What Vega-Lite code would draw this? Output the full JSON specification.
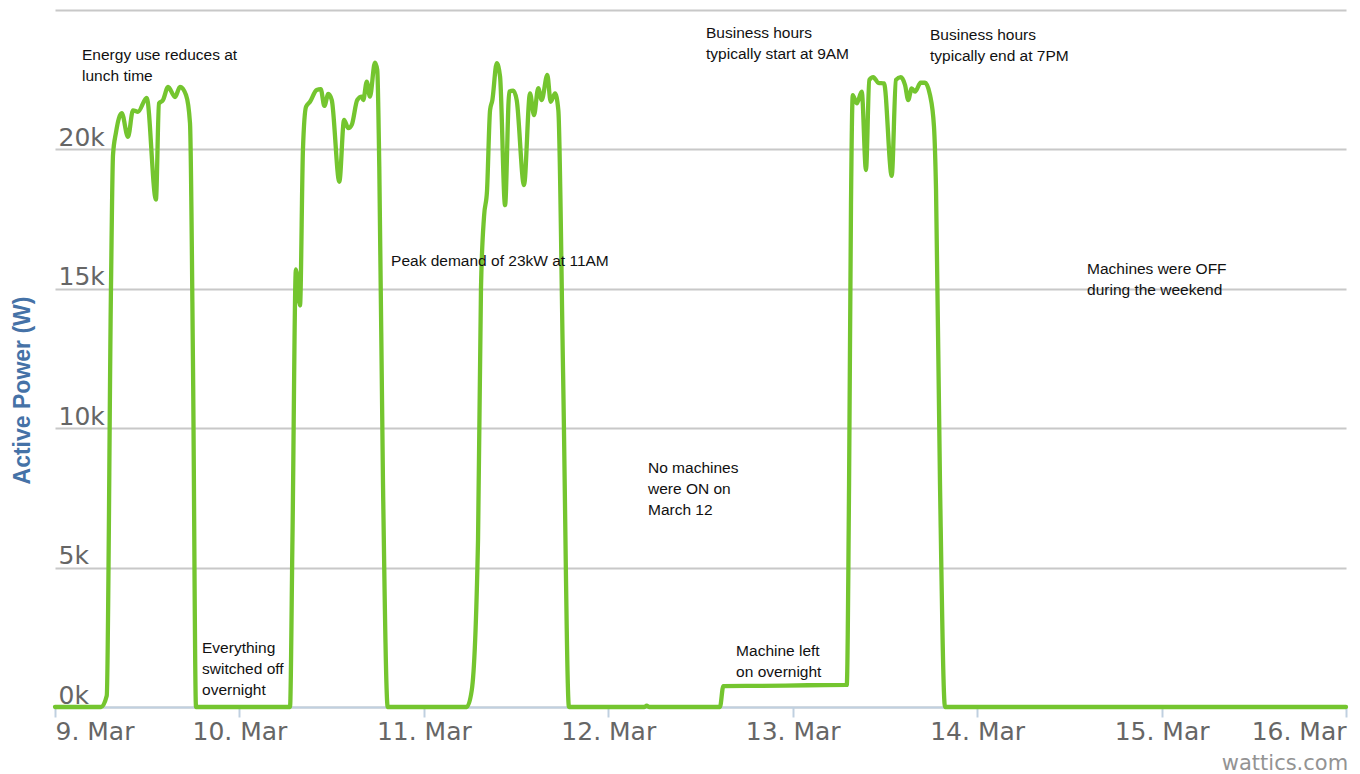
{
  "$schema": "https://vega.github.io/schema/vega-lite/v6.json",
  "width": 1291,
  "height": 697,
  "autosize": {"type": "none"},
  "padding": {"left": 55, "top": 10, "right": 14, "bottom": 67},
  "background": "white",
  "config": {"view": {"stroke": null}},
  "title": {"text": "wattics.com", "orient": "bottom", "anchor": "end", "fontSize": 21, "font": "DejaVu Sans", "fontWeight": "normal", "color": "#939393", "offset": 9},
  "layer": [
    {
      "data": {"values": [
        {"time": "2015-03-09T00:00", "power": 0},
        {"time": "2015-03-09T06:00", "power": 0},
        {"time": "2015-03-09T06:44", "power": 400},
        {"time": "2015-03-09T07:17", "power": 15000},
        {"time": "2015-03-09T07:33", "power": 19800},
        {"time": "2015-03-09T07:56", "power": 20600},
        {"time": "2015-03-09T08:41", "power": 21300},
        {"time": "2015-03-09T09:30", "power": 20450},
        {"time": "2015-03-09T10:09", "power": 21400},
        {"time": "2015-03-09T10:48", "power": 21350},
        {"time": "2015-03-09T11:56", "power": 21850},
        {"time": "2015-03-09T13:08", "power": 18200},
        {"time": "2015-03-09T13:32", "power": 21650},
        {"time": "2015-03-09T14:03", "power": 21770},
        {"time": "2015-03-09T14:43", "power": 22240},
        {"time": "2015-03-09T15:37", "power": 21880},
        {"time": "2015-03-09T16:16", "power": 22240},
        {"time": "2015-03-09T17:03", "power": 21950},
        {"time": "2015-03-09T17:34", "power": 20950},
        {"time": "2015-03-09T17:58", "power": 12000},
        {"time": "2015-03-09T18:21", "power": 0},
        {"time": "2015-03-10T06:35", "power": 0},
        {"time": "2015-03-10T06:54", "power": 6000},
        {"time": "2015-03-10T07:21", "power": 15700},
        {"time": "2015-03-10T07:53", "power": 14400},
        {"time": "2015-03-10T08:16", "power": 20000},
        {"time": "2015-03-10T08:40", "power": 21530},
        {"time": "2015-03-10T09:11", "power": 21710},
        {"time": "2015-03-10T10:03", "power": 22130},
        {"time": "2015-03-10T10:35", "power": 22160},
        {"time": "2015-03-10T11:03", "power": 21560},
        {"time": "2015-03-10T11:34", "power": 21990},
        {"time": "2015-03-10T12:01", "power": 21770},
        {"time": "2015-03-10T13:00", "power": 18840},
        {"time": "2015-03-10T13:37", "power": 21060},
        {"time": "2015-03-10T14:10", "power": 20760},
        {"time": "2015-03-10T14:37", "power": 20880},
        {"time": "2015-03-10T15:20", "power": 21770},
        {"time": "2015-03-10T15:55", "power": 21890},
        {"time": "2015-03-10T16:07", "power": 21770},
        {"time": "2015-03-10T16:34", "power": 22430},
        {"time": "2015-03-10T16:59", "power": 21890},
        {"time": "2015-03-10T17:38", "power": 23110},
        {"time": "2015-03-10T17:56", "power": 22850},
        {"time": "2015-03-10T18:12", "power": 19380},
        {"time": "2015-03-10T18:41", "power": 8000},
        {"time": "2015-03-10T19:18", "power": 0},
        {"time": "2015-03-11T05:35", "power": 0},
        {"time": "2015-03-11T06:14", "power": 600},
        {"time": "2015-03-11T07:03", "power": 6000},
        {"time": "2015-03-11T07:26", "power": 15000},
        {"time": "2015-03-11T07:50", "power": 17600},
        {"time": "2015-03-11T08:13", "power": 18500},
        {"time": "2015-03-11T08:37", "power": 21410},
        {"time": "2015-03-11T08:55", "power": 21770},
        {"time": "2015-03-11T09:29", "power": 23090},
        {"time": "2015-03-11T09:55", "power": 22610},
        {"time": "2015-03-11T10:34", "power": 18000},
        {"time": "2015-03-11T11:07", "power": 22070},
        {"time": "2015-03-11T11:38", "power": 22110},
        {"time": "2015-03-11T12:05", "power": 21770},
        {"time": "2015-03-11T13:02", "power": 18720},
        {"time": "2015-03-11T13:49", "power": 22010},
        {"time": "2015-03-11T14:20", "power": 21230},
        {"time": "2015-03-11T14:53", "power": 22200},
        {"time": "2015-03-11T15:20", "power": 21770},
        {"time": "2015-03-11T16:04", "power": 22670},
        {"time": "2015-03-11T16:30", "power": 21710},
        {"time": "2015-03-11T17:04", "power": 22010},
        {"time": "2015-03-11T17:30", "power": 21410},
        {"time": "2015-03-11T18:07", "power": 12000},
        {"time": "2015-03-11T18:53", "power": 0},
        {"time": "2015-03-12T04:40", "power": 0},
        {"time": "2015-03-12T05:00", "power": 50},
        {"time": "2015-03-12T05:20", "power": 0},
        {"time": "2015-03-12T14:32", "power": 0},
        {"time": "2015-03-12T14:58", "power": 750},
        {"time": "2015-03-12T20:00", "power": 760},
        {"time": "2015-03-13T02:00", "power": 780},
        {"time": "2015-03-13T07:02", "power": 790},
        {"time": "2015-03-13T07:20", "power": 8000},
        {"time": "2015-03-13T07:35", "power": 18000},
        {"time": "2015-03-13T07:49", "power": 21950},
        {"time": "2015-03-13T08:20", "power": 21650},
        {"time": "2015-03-13T08:59", "power": 22070},
        {"time": "2015-03-13T09:32", "power": 19260},
        {"time": "2015-03-13T09:58", "power": 22490},
        {"time": "2015-03-13T10:29", "power": 22590},
        {"time": "2015-03-13T11:08", "power": 22390},
        {"time": "2015-03-13T11:53", "power": 22370},
        {"time": "2015-03-13T12:53", "power": 19050},
        {"time": "2015-03-13T13:26", "power": 22490},
        {"time": "2015-03-13T14:03", "power": 22590},
        {"time": "2015-03-13T14:37", "power": 22310},
        {"time": "2015-03-13T15:02", "power": 21770},
        {"time": "2015-03-13T15:29", "power": 22190},
        {"time": "2015-03-13T15:55", "power": 22070},
        {"time": "2015-03-13T16:39", "power": 22390},
        {"time": "2015-03-13T17:13", "power": 22390},
        {"time": "2015-03-13T17:52", "power": 21950},
        {"time": "2015-03-13T18:23", "power": 20820},
        {"time": "2015-03-13T18:39", "power": 18550},
        {"time": "2015-03-13T19:10", "power": 8000},
        {"time": "2015-03-13T19:49", "power": 0},
        {"time": "2015-03-14T00:00", "power": 0},
        {"time": "2015-03-15T00:00", "power": 0},
        {"time": "2015-03-16T00:00", "power": 0}
      ]},
      "mark": {"type": "line", "interpolate": "monotone", "color": "#74c52f", "strokeWidth": 4.3, "strokeJoin": "round", "strokeCap": "round"},
      "encoding": {
        "x": {
          "field": "time", "type": "temporal",
          "scale": {"domain": [{"year": 2015, "month": 3, "date": 9}, {"year": 2015, "month": 3, "date": 16}]},
          "axis": {
            "title": null, "grid": false, "format": "%-d. %b",
            "values": [
              {"year": 2015, "month": 3, "date": 9}, {"year": 2015, "month": 3, "date": 10},
              {"year": 2015, "month": 3, "date": 11}, {"year": 2015, "month": 3, "date": 12},
              {"year": 2015, "month": 3, "date": 13}, {"year": 2015, "month": 3, "date": 14},
              {"year": 2015, "month": 3, "date": 15}, {"year": 2015, "month": 3, "date": 16}
            ],
            "domainColor": "#C0D0E0", "domainWidth": 2, "tickColor": "#C0D0E0", "tickWidth": 2, "tickSize": 10,
            "labelFont": "DejaVu Sans", "labelFontSize": 25, "labelColor": "#666666", "labelFlush": true,
            "labelPadding": 2, "labelOverlap": false
          }
        },
        "y": {
          "field": "power", "type": "quantitative",
          "scale": {"domain": [0, 25000], "nice": false},
          "axis": {
            "values": [0, 5000, 10000, 15000, 20000, 25000],
            "labelExpr": "datum.value === 25000 ? '' : format(datum.value / 1000, 'd') + 'k'",
            "grid": true, "gridColor": "#C8C8C8", "gridWidth": 2, "domain": false, "ticks": false, "tickSize": 0,
            "labelAlign": "left", "labelBaseline": "alphabetic", "labelPadding": -3, "labelOffset": -4,
            "labelFont": "DejaVu Sans", "labelFontSize": 25, "labelColor": "#666666",
            "title": "Active Power (W)", "titleFont": "Liberation Sans", "titleFontWeight": "bold", "titleFontSize": 23,
            "titleColor": "#4572A7", "titleAngle": -90, "titleAlign": "center", "titleBaseline": "middle",
            "titleX": -33, "titleY": 380
          }
        }
      }
    },
    {
      "data": {"values": [
        {"time": "2015-03-09T03:31", "power": 23637, "label": "Energy use reduces at\nlunch time"},
        {"time": "2015-03-09T19:08", "power": 2367, "label": "Everything\nswitched off\novernight"},
        {"time": "2015-03-10T19:44", "power": 16248, "label": "Peak demand of 23kW at 11AM"},
        {"time": "2015-03-12T05:10", "power": 8824, "label": "No machines\nwere ON on\nMarch 12"},
        {"time": "2015-03-12T16:38", "power": 2260, "label": "Machine left\non overnight"},
        {"time": "2015-03-12T12:43", "power": 24426, "label": "Business hours\ntypically start at 9AM"},
        {"time": "2015-03-13T17:52", "power": 24354, "label": "Business hours\ntypically end at 7PM"},
        {"time": "2015-03-14T14:18", "power": 15961, "label": "Machines were OFF\nduring the weekend"}
      ]},
      "mark": {"type": "text", "align": "left", "baseline": "top", "font": "Liberation Sans", "fontSize": 15.5, "lineHeight": 21, "lineBreak": "\n", "color": "#111111"},
      "encoding": {
        "x": {"field": "time", "type": "temporal"},
        "y": {"field": "power", "type": "quantitative"},
        "text": {"field": "label", "type": "nominal"}
      }
    }
  ]
}
